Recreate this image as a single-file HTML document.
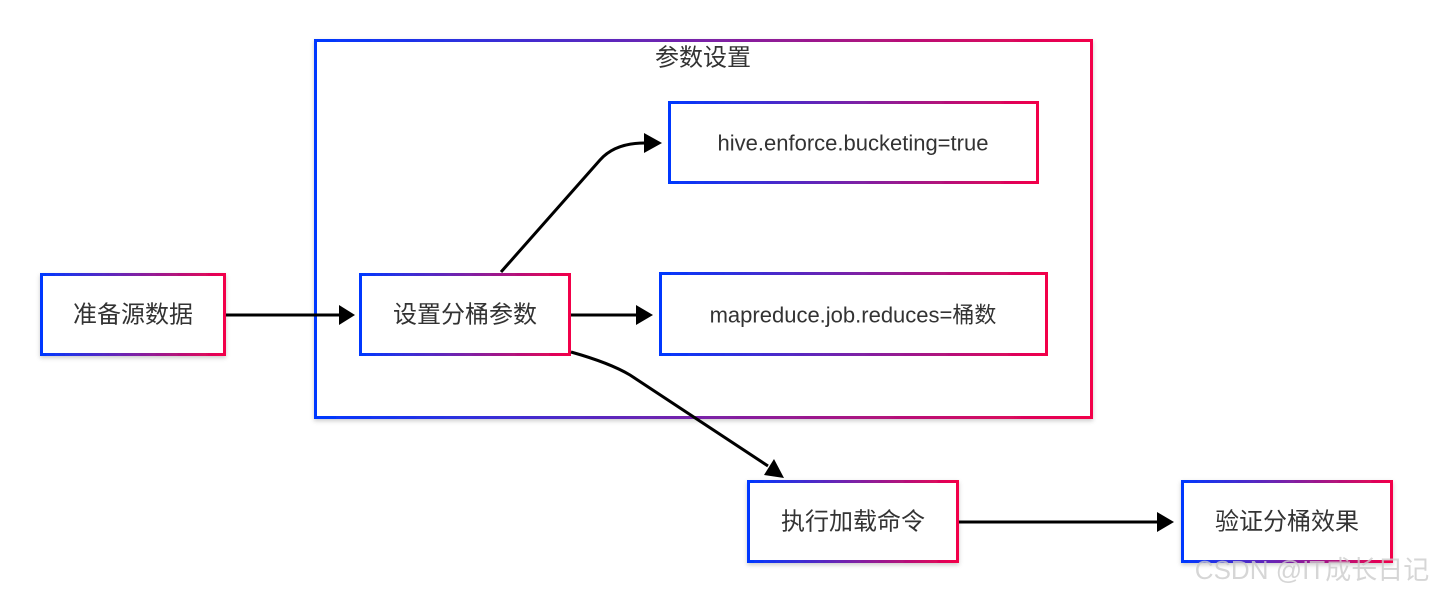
<!DOCTYPE html>
<html><head><meta charset="utf-8"><style>
html,body{margin:0;padding:0;background:#fff;}
svg{display:block;}
text{font-family:"Liberation Sans","Noto Sans CJK SC",sans-serif;fill:#333;}
</style></head><body>
<svg width="1432" height="596" viewBox="0 0 1432 596" xmlns="http://www.w3.org/2000/svg">
<defs>
<linearGradient id="g" x1="0" y1="0" x2="1" y2="0">
<stop offset="0" stop-color="#0038ff"/><stop offset="0.5" stop-color="#7a22a8"/><stop offset="1" stop-color="#f2004a"/>
</linearGradient>
<marker id="a" markerWidth="10" markerHeight="10" refX="8" refY="5" orient="auto" markerUnits="userSpaceOnUse" viewBox="0 0 10 10">
<path d="M0,0 L10,5 L0,10 z" fill="#000"/>
</marker>
<filter id="s" x="-10%" y="-10%" width="120%" height="130%"><feDropShadow dx="0" dy="2" stdDeviation="2" flood-opacity="0.2"/></filter>
</defs>
<g fill="#fff" stroke="url(#g)" stroke-width="3" filter="url(#s)">
<rect x="315.5" y="40.5" width="776" height="377"/>
<rect x="41.5" y="274.5" width="183" height="80"/>
<rect x="360.5" y="274.5" width="209" height="80"/>
<rect x="669.5" y="102.5" width="368" height="80"/>
<rect x="660.5" y="273.5" width="386" height="81"/>
<rect x="748.5" y="481.5" width="209" height="80"/>
<rect x="1182.5" y="481.5" width="209" height="80"/>
</g>
<g stroke="#000" stroke-width="3" fill="none">
<line x1="226" y1="315" x2="342" y2="315"/>
<path d="M355,315 l-16,-10 v20 z" fill="#000" stroke="none"/>
<path d="M501,272 L600,160 Q615,143 645,143"/>
<path d="M662,143 l-18,-10 v20 z" fill="#000" stroke="none"/>
<line x1="571" y1="315" x2="638" y2="315"/>
<path d="M653,315 l-17,-10 v20 z" fill="#000" stroke="none"/>
<path d="M571,352 Q610,363 630,375 L768,466"/>
<path d="M784,478 l-20,-3 l10,-16 z" fill="#000" stroke="none"/>
<line x1="959" y1="522" x2="1158" y2="522"/>
<path d="M1174,522 l-17,-10 v20 z" fill="#000" stroke="none"/>
</g>
<g font-size="24" text-anchor="middle" dominant-baseline="central">
<text x="703" y="58">参数设置</text>
<text x="133" y="315">准备源数据</text>
<text x="465" y="315">设置分桶参数</text>
<text x="853" y="143" font-size="22">hive.enforce.bucketing=true</text>
<text x="853" y="315" font-size="22">mapreduce.job.reduces=桶数</text>
<text x="853" y="522">执行加载命令</text>
<text x="1287" y="522">验证分桶效果</text>
<text x="1312" y="570" font-size="26" style="fill:#ccc;opacity:.8">CSDN @IT成长日记</text>
</g>
</svg>
</body></html>
